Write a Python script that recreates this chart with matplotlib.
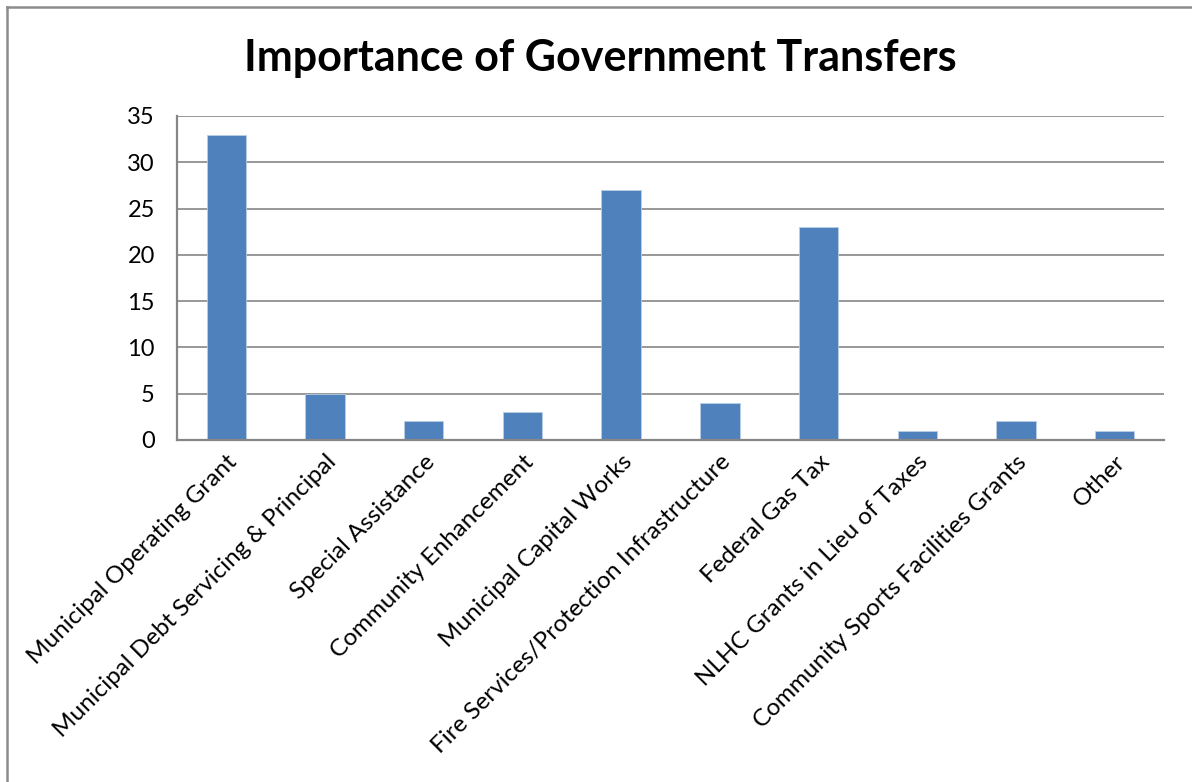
import matplotlib
matplotlib.use("Agg")
import numpy as np
from matplotlib import pyplot as plt
from matplotlib.lines import Line2D

categories = [
    "Municipal Operating Grant",
    "Municipal Debt Servicing & Principal",
    "Special Assistance",
    "Community Enhancement",
    "Municipal Capital Works",
    "Fire Services/Protection Infrastructure",
    "Federal Gas Tax",
    "NLHC Grants in Lieu of Taxes",
    "Community Sports Facilities Grants",
    "Other",
]
counts = [33, 5, 2, 3, 27, 4, 23, 1, 2, 1]
y_ticks = [0, 5, 10, 15, 20, 25, 30, 35]

plt.rcParams['font.family'] = ['Lato', 'DejaVu Sans']

fig = plt.figure(figsize=(11.92, 7.82), dpi=100)
ax = fig.add_axes([177 / 1192, 1 - 440 / 782, (1164 - 177) / 1192, (440 - 116) / 782])

x = np.arange(len(categories))
ax.bar(x, counts, width=0.4, color='#4F81BD', edgecolor='#B9CDE5', linewidth=0.6, zorder=3)

ax.set_xlim(-0.5, len(categories) - 0.5)
ax.set_ylim(0, 35)
ax.set_yticks(y_ticks)
ax.set_yticklabels([str(v) for v in y_ticks], fontsize=17)
ax.set_xticks(x)
ax.set_xticklabels(categories, rotation=45, ha='right', va='top',
                   rotation_mode='anchor', fontsize=17.5)
ax.tick_params(axis='y', length=0, pad=16)
ax.tick_params(axis='x', length=0, pad=8)

ax.yaxis.grid(True, color='#868686', linewidth=1.2, zorder=0)
ax.set_axisbelow(True)
for side in ['top', 'right']:
    ax.spines[side].set_visible(False)
for side in ['left', 'bottom']:
    ax.spines[side].set_color('#868686')
    ax.spines[side].set_linewidth(1.6)
    ax.spines[side].set_zorder(4)

fig.text(600 / 1192, 1 - 58 / 782, "Importance of Government Transfers",
         ha='center', va='center', fontsize=31, fontweight='bold')

# chart frame (only left and top edges fall inside the image)
fig.add_artist(Line2D([6.5 / 1192, 6.5 / 1192], [0, 1 - 7 / 782],
                      color='#8C8C8C', linewidth=1.8, transform=fig.transFigure))
fig.add_artist(Line2D([6.5 / 1192, 1], [1 - 7 / 782, 1 - 7 / 782],
                      color='#8C8C8C', linewidth=1.8, transform=fig.transFigure))

fig.savefig("out.png", dpi=100)
